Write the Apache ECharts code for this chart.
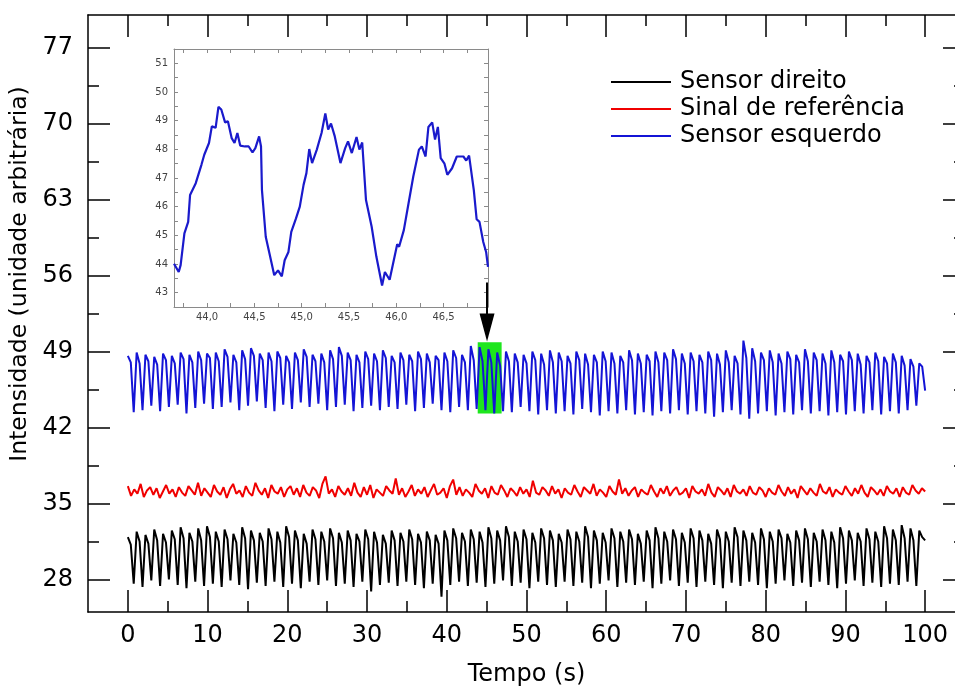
<!DOCTYPE html>
<html>
<head>
<meta charset="utf-8">
<script src="https://cdn.jsdelivr.net/npm/echarts@6.0.0/dist/echarts.min.js"></script>
<style>
html, body { margin: 0; padding: 0; background: #fff; }
#chart-container { width: 955px; height: 689px; }
</style>
</head>
<body>
<div id="chart-container"></div>
<script>
let dom = document.getElementById('chart-container');
let myChart = echarts.init(dom, null, {
    renderer: 'canvas',
    useDirtyRect: false
});
let option;

const FONT = 'DejaVu Sans';

// axis ticks of the main plot
const xMajor = [0, 10, 20, 30, 40, 50, 60, 70, 80, 90, 100];
const xMinor = [5, 15, 25, 35, 45, 55, 65, 75, 85, 95];
const yMajor = [28, 35, 42, 49, 56, 63, 70, 77];
const yMinor = [31.5, 38.5, 45.5, 52.5, 59.5, 66.5, 73.5];

// axis ticks of the inset
const insetXMajor = [44.0, 44.5, 45.0, 45.5, 46.0, 46.5];
const insetXTicks = [43.75, 44.0, 44.25, 44.5, 44.75, 45.0, 45.25, 45.5, 45.75, 46.0, 46.25, 46.5, 46.75];
const insetYMajor = [43, 44, 45, 46, 47, 48, 49, 50, 51];
const insetYTicks = [43, 43.5, 44, 44.5, 45, 45.5, 46, 46.5, 47, 47.5, 48, 48.5, 49, 49.5, 50, 50.5, 51];

const seriesNames = ['Sensor direito', 'Sinal de referência', 'Sensor esquerdo'];

// samples evenly spread over 0..100 s (peak, plateau, trough per beat)
const sensorDireito = [
    31.9,31.2,27.6, 32.4,31.5,27.3, 32.1,31.3,27.9, 32.6,31.6,27.4, 32.2,31.4,28.0,
    32.5,31.7,27.5, 32.8,31.8,27.2, 32.3,31.5,27.8, 32.7,31.6,27.4, 32.9,31.9,27.6,
    32.4,31.5,27.3, 32.6,31.7,27.9, 32.2,31.4,27.5, 32.8,31.8,27.1, 32.5,31.6,27.7,
    32.3,31.5,27.4, 32.7,31.7,27.8, 32.4,31.4,27.3, 32.9,31.9,27.6, 32.5,31.6,27.2,
    32.2,31.3,27.8, 32.6,31.7,27.5, 32.4,31.5,27.9, 32.7,31.8,27.4, 32.3,31.4,27.6,
    32.5,31.6,27.3, 32.2,31.5,27.8, 32.6,31.7,26.9, 32.4,31.4,27.5, 32.1,31.3,27.7,
    32.5,31.6,27.4, 32.3,31.5,27.8, 32.6,31.7,27.5, 32.2,31.4,27.2, 32.4,31.6,27.6,
    32.1,31.3,26.4, 32.5,31.6,27.5, 32.7,31.8,27.8, 32.3,31.5,27.4, 32.6,31.7,27.7,
    32.4,31.4,27.3, 32.8,31.8,27.6, 32.5,31.6,27.9, 32.9,31.9,27.4, 32.4,31.5,27.7,
    32.6,31.7,27.2, 32.3,31.4,27.8, 32.7,31.8,27.5, 32.5,31.6,27.3, 32.2,31.4,27.8,
    32.6,31.7,27.4, 32.4,31.5,27.7, 32.9,31.9,27.2, 32.5,31.6,27.6, 32.3,31.4,27.9,
    32.7,31.8,27.3, 32.4,31.5,27.7, 32.6,31.7,27.5, 32.2,31.3,27.8, 32.5,31.6,27.2,
    32.8,31.8,27.6, 32.4,31.5,27.9, 32.6,31.7,27.4, 32.3,31.4,27.7, 32.7,31.8,27.3,
    32.5,31.6,27.8, 32.2,31.3,27.5, 32.6,31.7,27.2, 32.4,31.5,27.7, 32.8,31.9,27.4,
    32.5,31.6,27.8, 32.3,31.4,27.5, 32.7,31.7,27.2, 32.4,31.5,27.6, 32.6,31.8,27.9,
    32.2,31.4,27.4, 32.5,31.6,27.7, 32.7,31.7,27.3, 32.3,31.5,27.8, 32.6,31.6,27.5,
    32.4,31.4,27.2, 32.8,31.8,27.6, 32.5,31.6,27.9, 32.3,31.5,27.4, 32.7,31.7,27.7,
    32.4,31.5,27.3, 32.9,31.8,27.6, 32.6,31.6,27.5, 33.0,31.8,27.8, 32.7,31.6,27.4,
    32.5,31.9,31.6
];

// reference signal, one sample every 0.4 s
const sinalReferencia = [
    36.6,35.7,36.3,35.9,36.8,35.6,36.2,36.5,35.8,36.4,35.5,36.1,36.7,35.9,36.3,35.6,36.5,36.0,35.7,36.6,36.2,35.8,36.9,35.7,36.4,
    36.0,35.6,36.7,36.1,35.8,36.5,35.5,36.3,36.8,35.9,36.2,35.6,36.6,36.0,35.7,36.9,36.2,35.8,36.4,35.5,36.7,36.1,35.9,36.5,35.6,
    36.3,36.6,35.8,36.4,35.6,36.7,36.0,35.7,36.5,36.2,35.5,36.8,37.5,35.9,36.3,35.6,36.6,36.1,35.8,36.4,35.7,36.9,36.0,35.6,36.5,
    35.8,36.7,35.5,36.3,36.0,35.7,36.6,36.2,35.9,37.3,35.8,36.4,35.6,36.1,36.7,35.7,36.3,35.9,36.5,35.6,36.2,36.8,35.8,36.0,36.4,
    35.5,36.6,37.2,35.8,36.5,35.7,36.3,36.0,35.6,36.8,36.2,35.9,36.4,35.5,36.6,36.0,35.8,36.7,36.2,35.6,36.4,36.1,35.7,36.5,35.9,
    36.3,35.6,37.1,36.0,35.8,36.5,36.2,35.7,36.6,35.9,36.3,35.5,36.4,36.0,35.8,36.7,36.1,35.6,36.5,36.2,35.9,36.8,35.7,36.3,36.0,
    35.6,36.6,36.1,35.8,37.2,35.9,36.4,35.7,36.2,36.5,35.6,36.3,36.0,35.8,36.7,36.1,35.6,36.4,35.9,36.6,35.7,36.2,36.5,35.8,36.0,
    36.4,35.5,36.6,36.1,35.9,36.3,35.7,36.8,36.0,35.6,36.5,36.2,35.8,36.4,35.6,36.7,36.1,35.9,36.3,35.7,36.6,36.0,35.8,36.5,36.2,
    35.6,36.4,36.0,35.8,36.7,36.1,35.7,36.5,35.9,36.3,35.5,36.6,36.2,35.8,36.4,36.0,35.7,36.8,36.1,35.9,36.5,35.6,36.3,36.0,35.8,
    36.6,36.1,35.7,36.4,35.9,36.7,36.0,35.6,36.5,36.2,35.8,36.3,35.7,36.6,36.1,35.9,36.4,35.6,36.5,36.0,35.8,36.7,36.2,35.9,36.4,
    36.1
];

const sensorEsquerdo = [
    48.6,48.0,43.4, 48.9,47.9,43.6, 48.7,48.1,44.0, 48.5,47.8,43.5, 48.8,48.2,43.9,
    48.6,47.9,44.1, 48.9,48.3,43.3, 48.7,48.0,43.8, 49.0,48.2,44.2, 48.8,48.4,43.7,
    48.9,48.1,43.9, 49.2,48.5,44.3, 48.7,48.0,43.6, 49.1,48.3,44.0, 49.3,48.6,44.4,
    48.8,48.2,43.8, 48.9,48.1,43.5, 49.0,48.4,44.1, 48.6,48.0,43.7, 48.9,48.2,44.3,
    49.2,48.5,43.9, 48.7,48.1,44.2, 48.8,48.0,43.6, 49.1,48.3,43.9, 49.4,48.6,44.1,
    48.9,48.2,43.5, 48.7,48.0,43.8, 49.0,48.3,44.0, 48.8,48.1,43.6, 49.1,48.4,43.9,
    48.6,48.0,43.7, 48.9,48.2,44.1, 48.7,48.1,43.5, 49.0,48.3,43.8, 48.8,48.0,44.2,
    48.6,48.2,43.6, 48.9,48.1,43.4, 49.1,48.4,43.9, 48.7,48.0,43.6, 49.5,48.2,43.7,
    49.4,48.1,43.6, 49.2,48.0,43.3, 48.9,47.7,43.5, 49.0,48.1,43.4, 48.8,48.0,43.9,
    48.7,47.9,43.5, 49.0,48.2,43.2, 48.8,47.8,43.6, 49.1,48.0,43.3, 48.9,48.1,43.5,
    48.6,47.9,43.2, 49.0,48.2,43.7, 48.8,47.8,43.4, 48.7,48.0,43.1, 49.0,48.1,43.5,
    48.9,47.9,43.3, 48.6,48.0,43.6, 49.1,48.2,43.2, 48.8,47.9,43.4, 48.7,48.1,43.1,
    49.0,48.0,43.5, 48.9,48.2,43.3, 49.2,48.3,43.6, 48.8,47.9,43.2, 48.9,48.1,43.5,
    48.7,48.0,43.3, 49.0,48.2,43.0, 48.8,47.8,43.4, 49.1,48.0,43.6, 48.6,47.9,43.2,
    50.0,48.4,42.8, 49.3,48.1,43.3, 48.9,48.2,43.5, 49.1,48.0,43.1, 48.8,47.9,43.4,
    49.0,48.3,43.2, 48.7,48.0,43.6, 49.2,48.1,43.3, 48.9,48.2,43.5, 48.8,47.9,43.1,
    49.1,48.0,43.4, 48.7,48.1,43.2, 49.0,48.2,43.5, 48.8,47.8,43.3, 48.6,48.0,43.6,
    48.9,48.1,43.2, 48.5,47.9,43.5, 48.8,48.0,43.3, 48.6,47.7,43.6, 48.3,47.6,44.0,
    47.9,47.6,45.4
];

// zoomed detail of the left sensor (inset)
const insetTime = [
    43.65, 43.70, 43.72, 43.76, 43.80, 43.82, 43.88, 43.94, 43.97, 44.02,
    44.05, 44.09, 44.12, 44.15, 44.19, 44.22, 44.26, 44.29, 44.32, 44.35,
    44.40, 44.44, 44.48, 44.51, 44.55, 44.57, 44.58, 44.62, 44.66, 44.71,
    44.75, 44.79, 44.82, 44.86, 44.89, 44.94, 44.98, 45.02, 45.05, 45.08,
    45.11, 45.16, 45.21, 45.25, 45.28, 45.31, 45.35, 45.41, 45.46, 45.49,
    45.53, 45.55, 45.58, 45.61, 45.64, 45.68, 45.74, 45.79, 45.85, 45.88,
    45.93, 46.01, 46.03, 46.08, 46.13, 46.18, 46.24, 46.27, 46.31, 46.34,
    46.38, 46.41, 46.44, 46.47, 46.51, 46.54, 46.59, 46.64, 46.71, 46.74,
    46.77, 46.82, 46.85, 46.88, 46.92, 46.95, 46.97
];
const insetValue = [
    44.01, 43.72, 43.96, 45.07, 45.47, 46.41, 46.82, 47.46, 47.81, 48.22,
    48.80, 48.75, 49.48, 49.39, 48.94, 48.98, 48.39, 48.22, 48.57, 48.13,
    48.10, 48.10, 47.89, 48.04, 48.45, 48.10, 46.58, 44.95, 44.36, 43.61,
    43.78, 43.57, 44.13, 44.42, 45.12, 45.59, 46.00, 46.76, 47.17, 48.01,
    47.52, 47.99, 48.57, 49.25, 48.69, 48.90, 48.45, 47.52, 48.04, 48.28,
    47.87, 47.81, 48.43, 47.99, 48.24, 46.23, 45.30, 44.25, 43.25, 43.72,
    43.45, 44.69, 44.60, 45.18, 46.12, 47.05, 47.99, 48.10, 47.75, 48.78,
    48.94, 48.34, 48.78, 47.69, 47.50, 47.11, 47.34, 47.75, 47.75, 47.61,
    47.78, 46.58, 45.56, 45.47, 44.77, 44.42, 43.90
];

// region shown in the inset, and the arrow pointing to it (time, intensity)
const zoomTime = [43.88, 46.88];
const zoomIntensity = [43.28, 49.86];
const arrowTime = 45.05;
const arrowIntensity = [55.35, 51.2];

function toPairs(values) {
    const dt = 100 / (values.length - 1);
    return values.map(function (v, i) {
        return [+(i * dt).toFixed(4), v];
    });
}

const blk = { color: '#000', width: 1.5 };
const labelFont = { fontFamily: FONT, fontSize: 24, color: '#000' };
const insetLine = { color: '#8a8a8a', width: 1 };
const insetLabel = { fontFamily: FONT, fontSize: 10, color: '#444' };

function mainX(pos, ticks, len, withLine, withLabel) {
    return {
        type: 'value', gridIndex: 0, position: pos, min: -5, max: 105,
        axisLine: { show: withLine, onZero: false, lineStyle: blk },
        axisTick: { show: true, inside: true, length: len, customValues: ticks, lineStyle: blk },
        axisLabel: withLabel ? Object.assign({ customValues: ticks, margin: 12 }, labelFont) : { show: false },
        splitLine: { show: false }
    };
}
function mainY(pos, ticks, len, withLine, withLabel) {
    return {
        type: 'value', gridIndex: 0, position: pos, min: 25, max: 80,
        axisLine: { show: withLine, onZero: false, lineStyle: blk },
        axisTick: { show: true, inside: true, length: len, customValues: ticks, lineStyle: blk },
        axisLabel: withLabel ? Object.assign({ customValues: ticks, margin: 15 }, labelFont) : { show: false },
        splitLine: { show: false }
    };
}

let xBottom = mainX('bottom', xMajor, 22, true, true);
xBottom.name = 'Tempo (s)';
xBottom.nameLocation = 'middle';
xBottom.nameGap = 51;
xBottom.nameTextStyle = { fontFamily: FONT, fontSize: 24, color: '#000' };

let yLeft = mainY('left', yMajor, 22, true, true);
yLeft.name = 'Intensidade (unidade arbitrária)';
yLeft.nameLocation = 'middle';
yLeft.nameGap = 52;
yLeft.nameTextStyle = { fontFamily: FONT, fontSize: 23.5, color: '#000', padding: [0, 0, 0, 79] };

option = {
    animation: false,
    backgroundColor: '#fff',
    grid: [
        { left: 88, top: 15, width: 877, height: 597, outerBoundsMode: 'none' },
        { left: 174, top: 49, width: 314, height: 258, outerBoundsMode: 'none' }
    ],
    legend: {
        data: seriesNames.map(function (n) { return { name: n, icon: 'rect' }; }),
        orient: 'vertical',
        left: 611,
        top: 70,
        padding: 0,
        itemWidth: 60,
        itemHeight: 2,
        itemGap: 3,
        textStyle: { fontFamily: FONT, fontSize: 24, color: '#000', lineHeight: 24, padding: [0, 0, 0, 4] }
    },
    xAxis: [
        xBottom,
        mainX('bottom', xMinor, 11, false, false),
        mainX('top', xMajor, 22, true, false),
        mainX('top', xMinor, 11, false, false),
        {
            type: 'value', gridIndex: 1, position: 'bottom', min: 43.65, max: 46.97,
            axisLine: { onZero: false, lineStyle: insetLine },
            axisTick: { inside: true, length: 4, customValues: insetXTicks, lineStyle: insetLine },
            axisLabel: Object.assign({
                customValues: insetXMajor, margin: 5,
                formatter: function (v) { return v.toFixed(1).replace('.', ','); }
            }, insetLabel),
            splitLine: { show: false }
        },
        {
            type: 'value', gridIndex: 1, position: 'top', min: 43.65, max: 46.97,
            axisLine: { onZero: false, lineStyle: insetLine },
            axisTick: { inside: true, length: 4, customValues: insetXTicks, lineStyle: insetLine },
            axisLabel: { show: false },
            splitLine: { show: false }
        }
    ],
    yAxis: [
        yLeft,
        mainY('left', yMinor, 11, false, false),
        mainY('right', yMajor, 22, true, false),
        mainY('right', yMinor, 11, false, false),
        {
            type: 'value', gridIndex: 1, position: 'left', min: 42.5, max: 51.5,
            axisLine: { onZero: false, lineStyle: insetLine },
            axisTick: { inside: true, length: 4, customValues: insetYTicks, lineStyle: insetLine },
            axisLabel: Object.assign({ customValues: insetYMajor, margin: 6 }, insetLabel),
            splitLine: { show: false }
        },
        {
            type: 'value', gridIndex: 1, position: 'right', min: 42.5, max: 51.5,
            axisLine: { onZero: false, lineStyle: insetLine },
            axisTick: { inside: true, length: 4, customValues: insetYTicks, lineStyle: insetLine },
            axisLabel: { show: false },
            splitLine: { show: false }
        }
    ],
    series: [
        {
            name: seriesNames[0],
            type: 'line',
            xAxisIndex: 0, yAxisIndex: 0,
            data: toPairs(sensorDireito),
            symbol: 'none',
            color: '#000',
            lineStyle: { color: '#000', width: 2 },
            silent: true
        },
        {
            name: seriesNames[1],
            type: 'line',
            xAxisIndex: 0, yAxisIndex: 0,
            data: toPairs(sinalReferencia),
            symbol: 'none',
            color: '#f00000',
            lineStyle: { color: '#f00000', width: 2 },
            silent: true
        },
        {
            name: seriesNames[2],
            type: 'line',
            xAxisIndex: 0, yAxisIndex: 0,
            data: toPairs(sensorEsquerdo),
            symbol: 'none',
            color: '#1414d6',
            lineStyle: { color: '#1414d6', width: 2 },
            silent: true,
            markArea: {
                silent: true,
                label: { show: false },
                itemStyle: { color: '#1ee61e', opacity: 1 },
                data: [[
                    { coord: [zoomTime[0], zoomIntensity[1]] },
                    { coord: [zoomTime[1], zoomIntensity[0]] }
                ]]
            },
            markLine: {
                silent: true,
                symbol: ['none', 'triangle'],
                label: { show: false },
                lineStyle: { color: '#000', width: 2, type: 'solid' },
                data: [[
                    { coord: [arrowTime, arrowIntensity[0]] },
                    { coord: [arrowTime, arrowIntensity[1]], symbolSize: [15, 28] }
                ]]
            }
        },
        {
            name: 'detalhe',
            type: 'line',
            xAxisIndex: 4, yAxisIndex: 4,
            data: insetTime.map(function (t, i) { return [t, insetValue[i]]; }),
            symbol: 'none',
            color: '#1a1acc',
            lineStyle: { color: '#1a1acc', width: 2.2 },
            silent: true
        }
    ]
};

if (option && typeof option === 'object') {
    myChart.setOption(option);
}

window.addEventListener('resize', myChart.resize);
</script>
</body>
</html>
